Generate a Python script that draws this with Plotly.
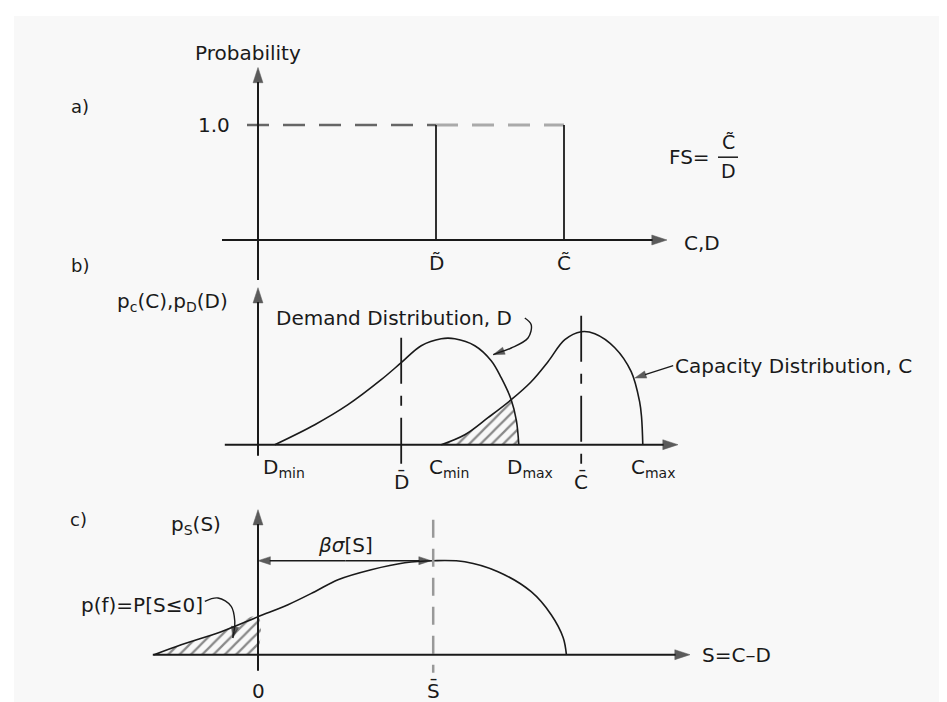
import plotly.graph_objects as go

# ---- data (schematic values) ----
# a) deterministic values, probability = 1.0
D_tilde = 4.45
C_tilde = 7.65
prob = 1.0

# b) demand / capacity distributions (C,D units vs density)
dem_x = [0.42, 1.42, 2.25, 3.08, 3.58, 4.08, 4.58, 4.92, 5.42, 5.83, 6.08, 6.33, 6.46, 6.52]
dem_y = [0.0, 2.0, 4.0, 6.5, 8.2, 9.9, 10.6, 10.6, 9.9, 8.4, 6.7, 4.5, 2.4, 0.0]
cap_x = [4.58, 5.17, 5.75, 6.33, 6.83, 7.25, 7.67, 8.08, 8.42, 8.92, 9.33, 9.54, 9.59, 9.62]
cap_y = [0.0, 1.0, 2.7, 4.5, 6.3, 8.3, 10.5, 11.3, 11.1, 9.7, 7.3, 4.3, 2.7, 0.0]
D_bar, C_bar = 3.58, 8.08
D_min, D_max = 0.42, 6.52
C_min, C_max = 4.58, 9.62

# c) safety margin S = C - D
s_x = [-2.6, -1.92, -0.92, 0.0, 0.75, 1.42, 2.0, 2.83, 3.67, 4.38, 5.17, 6.0, 6.83, 7.33, 7.63, 7.71]
s_y = [0.0, 1.0, 2.3, 3.8, 5.0, 6.3, 7.5, 8.5, 9.2, 9.4, 9.3, 8.3, 6.3, 4.0, 1.7, 0.0]
S_bar = 4.38
S_peak = 9.4

W, H = 947, 702
FONT = "DejaVu Sans, Arial, sans-serif"
INK = "#1a1a1a"


def yband(top, bot, zero, ppu):
    return dict(domain=[1 - bot / H, 1 - top / H], range=[(zero - bot) / ppu, (zero - top) / ppu],
                visible=False, fixedrange=True)


xr = [-250 / 40, (W - 250) / 40]

fig = go.Figure()


def line(x, y, ax, color=INK, width=1.6, dash=None, shape="linear"):
    fig.add_trace(go.Scatter(x=x, y=y, mode="lines", xaxis="x" + ax, yaxis="y" + ax,
                             line=dict(color=color, width=width, dash=dash, shape=shape),
                             hoverinfo="skip", showlegend=False, cliponaxis=False))


def arrow(x0, y0, x1, y1, ax, width=2, size=16):
    # line with an arrow head (tip at x1, y1)
    fig.add_trace(go.Scatter(x=[x0, x1], y=[y0, y1], mode="lines+markers", xaxis="x" + ax, yaxis="y" + ax,
                             line=dict(color=INK, width=width),
                             marker=dict(symbol="arrow", angleref="previous", size=[0, size], color=INK,
                                         line=dict(width=0.5, color=INK)),
                             hoverinfo="skip", showlegend=False, cliponaxis=False))


def hatch(x, y, ax):
    fig.add_trace(go.Scatter(x=x, y=y, mode="lines", xaxis="x" + ax, yaxis="y" + ax, fill="toself",
                             line=dict(width=0, shape="spline"), fillcolor="rgba(0,0,0,0)",
                             fillpattern=dict(shape="/", size=8, solidity=0.28, fgcolor=INK,
                                              bgcolor="rgba(0,0,0,0)"),
                             hoverinfo="skip", showlegend=False))


annots = []


def label(x, y, txt, ax, size=20, xanchor="center", xshift=0):
    annots.append(dict(x=x, y=y, xref="x" + ax, yref="y" + ax, text=txt, showarrow=False,
                       xanchor=xanchor, yanchor="middle", xshift=xshift,
                       font=dict(family=FONT, size=size, color=INK)))


# ---------- panel a ----------
A = ""
line([-0.275, D_tilde], [prob, prob], A, color="#666", width=2.5, dash="22px,14px")
line([D_tilde, C_tilde], [prob, prob], A, color="#aaa", width=3, dash="22px,14px")
line([D_tilde, D_tilde], [0, prob], A, width=1.8)
line([C_tilde, C_tilde], [0, prob], A, width=1.8)
arrow(0, -0.348, 0, 1.5, A)
arrow(-0.9, 0, 10.225, 0, A)
label(-0.25, 1.626, "Probability", A)
label(-0.65, 1.0, "1.0", A, xanchor="right")
label(-4.45, 1.16, "a)", A, size=18)
label(10.6, -0.03, "C,D", A, xanchor="left")
label(D_tilde, -0.2, "D\u0303", A)
label(C_tilde, -0.2, "C\u0303", A)
label(10.23, 0.72, "FS=", A, xanchor="left")
label(11.75, 0.85, "C\u0303", A, size=19)
label(11.75, 0.6, "D", A, size=19)
line([11.5, 12.0], [0.72, 0.72], A, width=1.5)
label(-4.45, -0.22, "b)", A, size=18)

# ---------- panel b ----------
B = "2"
hatch(cap_x[:4] + dem_x[11:], cap_y[:4] + dem_y[11:], B)
line(dem_x, dem_y, B, shape="spline")
line(cap_x, cap_y, B, shape="spline")
line([D_bar, D_bar], [10.7, -1.9], B, width=1.8, dash="46px,12px,10px,12px")
line([C_bar, C_bar], [12.9, -1.9], B, width=1.8, dash="46px,12px,10px,12px")
arrow(0, -1.1, 0, 15.7, B)
arrow(-0.83, 0, 10.5, 0, B)
label(-2.15, 14.3, "p<sub>c</sub>(C),p<sub>D</sub>(D)", B)
label(0.4, 12.7, "Demand Distribution, D", B, xanchor="left")
line([6.67, 6.83, 6.75, 6.33, 6.05], [12.67, 12.0, 10.67, 9.67, 9.25], B, width=1.4, shape="spline")
arrow(6.05, 9.25, 5.88, 9.0, B, width=1.4, size=12)
label(10.38, 7.9, "Capacity Distribution, C", B, xanchor="left")
arrow(10.38, 7.9, 9.42, 6.67, B, width=1.4, size=12)
for v, t in [(D_min, "D<sub>min</sub>"), (C_min, "C<sub>min</sub>"),
             (D_max, "D<sub>max</sub>"), (C_max, "C<sub>max</sub>")]:
    label(v, -2.3, t, B, xanchor="left", xshift=-14)
label(D_bar, -3.7, "D\u0304", B)
label(C_bar, -3.7, "C\u0304", B)

# ---------- panel c ----------
Cc = "3"
hatch(s_x[:4] + [0.0], s_y[:4] + [0.0], Cc)
line(s_x, s_y, Cc, shape="spline")
line([S_bar, S_bar], [13.5, -1.8], Cc, color="#999", width=2.5, dash="18px,11px")
arrow(0, -1.6, 0, 14.5, Cc)
arrow(-2.63, 0, 10.8, 0, Cc)
arrow(S_bar / 2, S_peak, S_bar - 0.05, S_peak, Cc, width=1.6, size=13)
arrow(S_bar / 2, S_peak, 0.0, S_peak, Cc, width=1.6, size=13)
label(2.18, 10.97, "<i>\u03b2\u03c3</i>[S]", Cc)
label(-4.48, 13.5, "c)", Cc, size=18)
label(-1.55, 12.97, "p<sub>S</sub>(S)", Cc)
label(-1.33, 5.0, "p(f)=P[S\u22640]", Cc, xanchor="right")
line([-1.33, -1.0, -0.67, -0.58, -0.6], [5.34, 5.67, 4.84, 3.34, 2.3], Cc, width=1.4, shape="spline")
arrow(-0.6, 2.3, -0.63, 1.67, Cc, width=1.4, size=12)
label(0, -3.6, "0", Cc)
label(S_bar, -3.6, "S\u0304", Cc)
label(11.05, 0, "S=C\u2013D", Cc, xanchor="left")

fig.update_layout(
    width=W, height=H, margin=dict(l=0, r=0, t=0, b=0),
    paper_bgcolor="white", plot_bgcolor="rgba(0,0,0,0)",
    xaxis=dict(domain=[0, 1], range=xr, visible=False, fixedrange=True, anchor="y"),
    xaxis2=dict(domain=[0, 1], range=xr, visible=False, fixedrange=True, anchor="y2"),
    xaxis3=dict(domain=[0, 1], range=xr, visible=False, fixedrange=True, anchor="y3"),
    yaxis=yband(20, 275, 232, 115) | dict(anchor="x"),
    yaxis2=yband(275, 490, 436.7, 10) | dict(anchor="x2"),
    yaxis3=yband(490, 702, 646.7, 10) | dict(anchor="x3"),
    annotations=annots,
    shapes=[dict(type="rect", xref="paper", yref="paper", x0=6 / W, x1=942 / W, y0=1 - 697 / H,
                 y1=1 - 8 / H, fillcolor="#f8f8f8", line=dict(width=0), layer="below")],
)

fig.write_html("out.html")
